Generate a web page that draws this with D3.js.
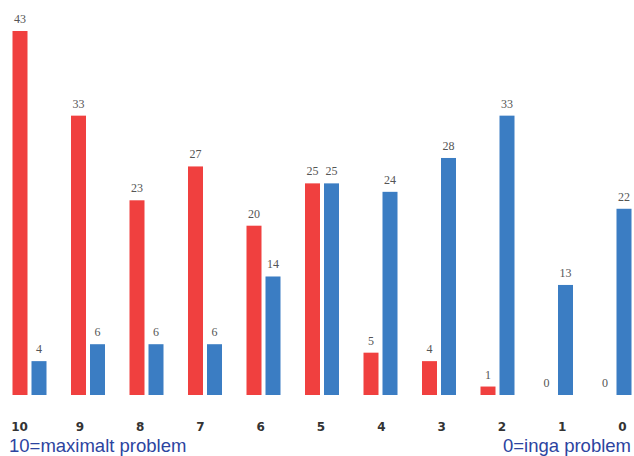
<!DOCTYPE html>
<html>
<head>
<meta charset="utf-8">
<script src="https://cdn.jsdelivr.net/npm/d3@7"></script>
<style>
  html, body { margin: 0; padding: 0; background: #fff; }
  svg { display: block; }
  .val { font-family: "Liberation Serif", "DejaVu Serif", serif; font-size: 12px; fill: #555; }
  .cat text { font-family: "DejaVu Sans", sans-serif; font-weight: bold; font-size: 12px; fill: #333; }
  .note { font-family: "Liberation Sans", Arial, sans-serif; font-size: 18.5px; fill: #2c44a0; }
</style>
</head>
<body>
<svg id="chart" width="634" height="456"></svg>
<script>
const categories = ["10", "9", "8", "7", "6", "5", "4", "3", "2", "1", "0"];
const seriesNames = ["red", "blue"];
const redValues  = [43, 33, 23, 27, 20, 25, 5, 4, 1, 0, 0];
const blueValues = [4, 6, 6, 6, 14, 25, 24, 28, 33, 13, 22];
const leftNote = "10=maximalt problem";
const rightNote = "0=inga problem";

const colors = { red: "#f0403f", blue: "#3b7dc3" };

const svg = d3.select("#chart");

const y = d3.scaleLinear().domain([0, 43]).range([395, 31]);
const x0 = d3.scaleBand().domain(categories).range([0.25, 643.75]).padding(0);
const x1 = d3.scaleBand().domain(seriesNames).range([0, 34]).paddingInner(0.2105).paddingOuter(0);
const xl = d3.scalePoint().domain(categories).range([19, 622]);

const data = categories.map((c, i) => ({ cat: c, red: redValues[i], blue: blueValues[i] }));

const groups = svg.selectAll("g.grp").data(data).enter().append("g")
  .attr("class", "grp")
  .attr("transform", d => `translate(${x0(d.cat) + x0.bandwidth() / 2 - 17},0)`);

seriesNames.forEach(s => {
  groups.append("rect")
    .attr("x", x1(s))
    .attr("width", x1.bandwidth())
    .attr("y", d => y(d[s]))
    .attr("height", d => y(0) - y(d[s]))
    .attr("fill", colors[s]);
  groups.append("text")
    .attr("class", "val")
    .attr("x", x1(s) + x1.bandwidth() / 2)
    .attr("y", d => y(d[s]) - 8)
    .attr("text-anchor", "middle")
    .text(d => d[s]);
});

// category axis labels
const xAxis = d3.axisBottom(xl).tickSize(0).tickPadding(0);
const axisG = svg.append("g").attr("class", "cat").attr("transform", "translate(0,422)").call(xAxis);
axisG.select(".domain").remove();
axisG.attr("font-family", null).attr("font-size", null);

svg.append("text")
  .attr("class", "note")
  .attr("x", 9).attr("y", 452)
  .text(leftNote);

svg.append("text")
  .attr("class", "note")
  .attr("x", 631).attr("y", 452)
  .attr("text-anchor", "end")
  .text(rightNote);
</script>
</body>
</html>
